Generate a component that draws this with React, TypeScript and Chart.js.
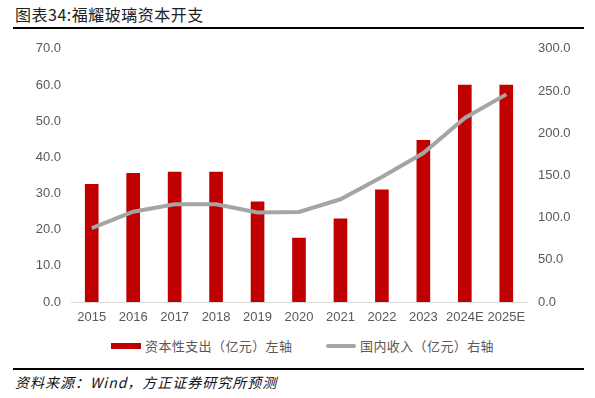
import React, { useEffect, useRef } from "react";
import { Chart, registerables } from "chart.js";

Chart.register(...registerables);

const categories = ["2015", "2016", "2017", "2018", "2019", "2020", "2021", "2022", "2023", "2024E", "2025E"];
const capexValues = [32.5, 35.6, 35.9, 35.9, 27.7, 17.7, 23.0, 31.0, 44.7, 60.0, 60.0];
const domesticRevenue = [87.5, 107.0, 115.8, 115.8, 106.0, 106.7, 121.7, 148.0, 176.5, 218.0, 246.0];
const capexLabel = "资本性支出（亿元）左轴";
const revenueLabel = "国内收入（亿元）右轴";
const titleText = "图表34:福耀玻璃资本开支";
const sourceText = "资料来源：Wind，方正证券研究所预测";

const RED = "#C00000";
const GRAY = "#A5A5A5";
const TEXT = "#595959";
const TICK_FONT = '"Liberation Sans", "Noto Sans CJK SC", sans-serif';
const CJK_FONT = '"Noto Sans CJK SC", sans-serif';

export default function App() {
  const canvasRef = useRef<HTMLCanvasElement | null>(null);

  useEffect(() => {
    if (!canvasRef.current) return;
    const chart = new Chart(canvasRef.current, {
      type: "bar",
      data: {
        labels: categories,
        datasets: [
          {
            type: "line",
            label: revenueLabel,
            data: domesticRevenue,
            borderColor: GRAY,
            backgroundColor: GRAY,
            borderWidth: 4,
            pointRadius: 0,
            tension: 0,
            yAxisID: "y1",
            order: 1,
          },
          {
            type: "bar",
            label: capexLabel,
            data: capexValues,
            backgroundColor: RED,
            borderWidth: 0,
            barThickness: 13,
            yAxisID: "y",
            order: 2,
          },
        ],
      },
      options: {
        animation: false,
        responsive: false,
        maintainAspectRatio: false,
        layout: { padding: { top: 17, left: 0, right: 0, bottom: 4 } },
        plugins: {
          legend: { display: false },
          tooltip: { enabled: false },
          title: { display: false },
        },
        scales: {
          x: {
            grid: { display: false, drawTicks: false },
            border: { display: true, color: "#D9D9D9", width: 1 },
            ticks: {
              color: TEXT,
              font: { family: TICK_FONT, size: 13 },
              padding: 8,
              maxRotation: 0,
              autoSkip: false,
            },
            afterFit: (scale: any) => {
              scale.height = 24;
            },
          },
          y: {
            position: "left",
            min: 0,
            max: 70,
            grid: { display: false, drawTicks: false },
            border: { display: false },
            ticks: {
              stepSize: 10,
              color: TEXT,
              font: { family: TICK_FONT, size: 13 },
              padding: 10,
              callback: (v: any) => Number(v).toFixed(1),
            },
            afterFit: (scale: any) => {
              scale.width = 71;
            },
          },
          y1: {
            position: "right",
            min: 0,
            max: 300,
            grid: { display: false, drawTicks: false },
            border: { display: false },
            ticks: {
              stepSize: 50,
              color: TEXT,
              font: { family: TICK_FONT, size: 13 },
              padding: 11,
              callback: (v: any) => Number(v).toFixed(1),
            },
            afterFit: (scale: any) => {
              scale.width = 68;
            },
          },
        },
      },
    });
    return () => chart.destroy();
  }, []);

  return (
    <div
      style={{
        position: "absolute",
        left: 0,
        top: 0,
        width: 595,
        height: 398,
        background: "#fff",
        overflow: "hidden",
      }}
    >
      <div
        style={{
          position: "absolute",
          left: 15,
          top: 4,
          fontFamily: CJK_FONT,
          fontSize: 16,
          fontWeight: 400,
          lineHeight: "20px",
          color: "#222",
          letterSpacing: 0.5,
          whiteSpace: "nowrap",
        }}
      >
        {titleText}
      </div>
      <div
        style={{
          position: "absolute",
          left: 13,
          top: 27,
          width: 571,
          height: 2,
          background: "#000",
        }}
      />
      <canvas
        ref={canvasRef}
        width={595}
        height={300}
        style={{ position: "absolute", left: 0, top: 30, width: 595, height: 300 }}
      />
      <div
        style={{
          position: "absolute",
          left: 0,
          top: 336,
          width: 595,
          height: 20,
          fontFamily: CJK_FONT,
          fontSize: 13,
          color: TEXT,
          whiteSpace: "nowrap",
        }}
      >
        <span style={{ position: "absolute", left: 111, top: 6.5, width: 30, height: 6, background: RED }} />
        <span style={{ position: "absolute", left: 145, top: 0, lineHeight: "20px", letterSpacing: 0.4 }}>
          {capexLabel}
        </span>
        <span
          style={{
            position: "absolute",
            left: 326,
            top: 7.5,
            width: 30,
            height: 4,
            background: GRAY,
            borderRadius: 2,
          }}
        />
        <span style={{ position: "absolute", left: 360, top: 0, lineHeight: "20px", letterSpacing: 0.4 }}>
          {revenueLabel}
        </span>
      </div>
      <div
        style={{
          position: "absolute",
          left: 13,
          top: 368,
          width: 571,
          height: 2,
          background: "#000",
        }}
      />
      <div
        style={{
          position: "absolute",
          left: 15,
          top: 373,
          fontFamily: CJK_FONT,
          fontSize: 14,
          lineHeight: "18px",
          fontStyle: "italic",
          color: "#111",
          letterSpacing: 1,
          whiteSpace: "nowrap",
        }}
      >
        {sourceText}
      </div>
    </div>
  );
}
